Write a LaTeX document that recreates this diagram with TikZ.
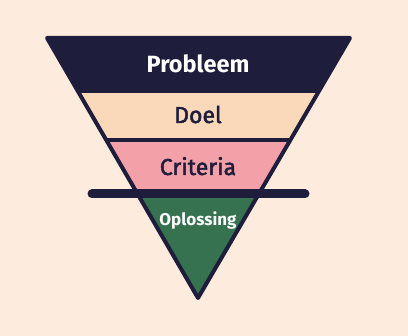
\documentclass[tikz,border=0pt]{standalone}
\usepackage{fontspec}
\setmainfont{Fira Sans}
\newfontfamily\firamid[FakeBold=2]{Fira Sans}
\definecolor{bgpeach}{HTML}{FDEBDD}
\definecolor{navy}{HTML}{1E1E3C}
\definecolor{doelc}{HTML}{F9D9BA}
\definecolor{critc}{HTML}{F4A0A8}
\definecolor{oplc}{HTML}{36724F}
\begin{document}
\begin{tikzpicture}[x=1pt,y=-1pt,
  lbl/.style={anchor=base,inner sep=0pt,font=\fontsize{23}{26}\selectfont\firamid},
  rim/.style={draw=navy,line width=4pt,line join=round}]
  \fill[bgpeach] (0,0) rectangle (408,336);
  \useasboundingbox (0,0) rectangle (408,336);
  \coordinate (tl) at (47,38);
  \coordinate (tr) at (350,38);
  \coordinate (apex) at (198,298);
  \begin{scope}
    \clip (tl) -- (tr) -- (apex) -- cycle;
    \fill[navy] (0,30) rectangle (408,93);
    \fill[doelc] (0,93) rectangle (408,140);
    \fill[critc] (0,140) rectangle (408,194);
    \fill[oplc] (0,194) rectangle (408,300);
    \draw[navy,line width=4pt] (0,140) -- (408,140);
  \end{scope}
  \draw[rim] (tl) -- (tr) -- (apex) -- cycle;
  \coordinate (barL) at (92,194);
  \coordinate (barR) at (305,194);
  \draw[navy,line width=9pt,line cap=round] (barL) -- (barR);
  \node[lbl,text=white,font=\fontsize{23.5}{26}\selectfont\bfseries] (probleem) at (198,73) {Probleem};
  \node[lbl,text=navy] (doel) at (198,123) {Doel};
  \node[lbl,text=navy] (criteria) at (198,175) {Criteria};
  \node[lbl,text=white,font=\fontsize{17}{20}\selectfont\bfseries] (oplossing) at (198,226) {Oplossing};
\end{tikzpicture}
\end{document}
